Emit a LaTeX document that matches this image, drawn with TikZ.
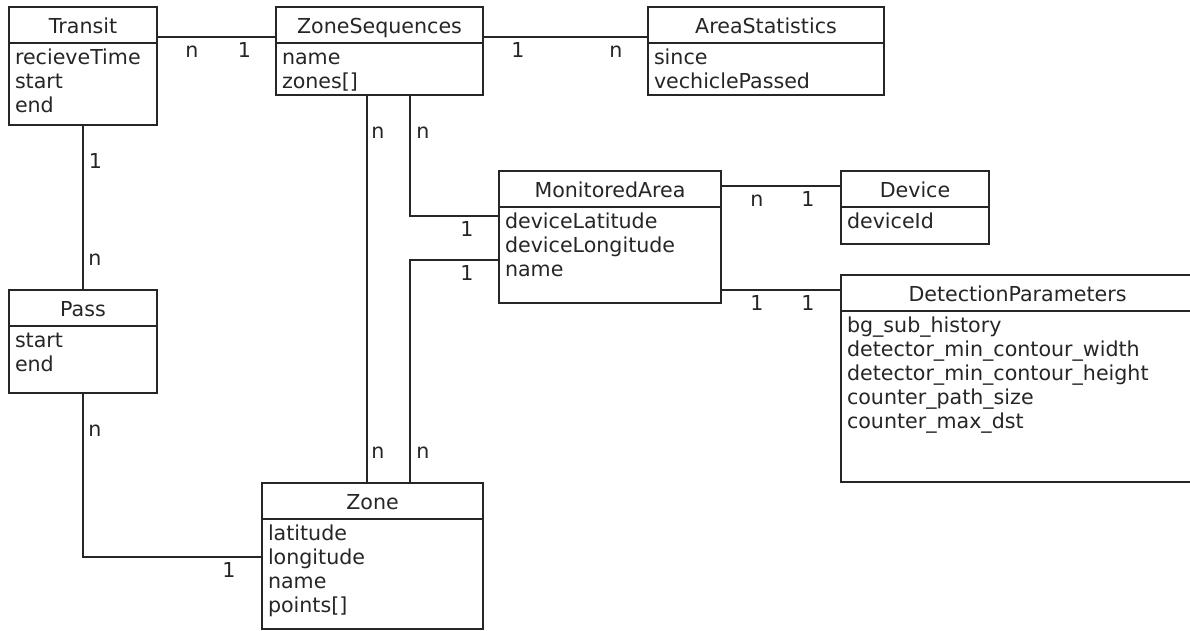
\documentclass[tikz,border=0pt]{standalone}
\usepackage{fontspec}
\setmainfont{DejaVu Sans}
\usetikzlibrary{fit}
\tikzset{
  classbox/.style={draw=black!85, line width=1.7pt, inner sep=0pt, outer sep=0pt},
  conn/.style={draw=black!85, line width=1.7pt},
  txt/.style={inner sep=0pt, outer sep=0pt, text=black!85},
  mult/.style={inner sep=0pt, outer sep=0pt, text=black!85, anchor=base},
}
\newcommand\umlclass[7]{%
  \node[classbox, fit={(#2,#3) (#4,#5)}] (#1) {};
  \draw[conn] ([yshift=-36pt]#1.north west) -- ([yshift=-36pt]#1.north east);
  \node[txt, anchor=base] (#1-title) at ([yshift=-26pt]#1.north) {#6};
  \foreach \a [count=\i] in {#7} {
    \node[txt, anchor=base west] (#1-a\i) at ([xshift=6pt, yshift={-(57+(\i-1)*24)*1pt}]#1.north west) {\a};
  }%
}
\begin{document}
\begin{tikzpicture}[x=1pt, y=-1pt, font=\fontsize{20.6}{24}\selectfont]
\useasboundingbox (0,0) rectangle (1190,630);
\clip (0,0) rectangle (1190,630);
\fill[white] (0,0) rectangle (1190,630);

\umlclass{transit}{9}{7}{157}{125}{Transit}{recieveTime,start,end}
\umlclass{zoneseq}{276}{7}{483}{95}{ZoneSequences}{name,zones[]}
\umlclass{areastat}{648}{7}{884}{95}{AreaStatistics}{since,vechiclePassed}
\umlclass{monitored}{499}{171}{721}{303}{MonitoredArea}{deviceLatitude,deviceLongitude,name}
\umlclass{device}{841}{171}{989}{244}{Device}{deviceId}
\umlclass{detect}{841}{275}{1194}{482}{DetectionParameters}{bg\_sub\_history,detector\_min\_contour\_width,detector\_min\_contour\_height,counter\_path\_size,counter\_max\_dst}
\umlclass{pass}{9}{290}{157}{393}{Pass}{start,end}
\umlclass{zone}{262}{483}{483}{629}{Zone}{latitude,longitude,name,points[]}

% connectors
\draw[conn] ([yshift=-30pt]transit.north east) -- ([yshift=-30pt]zoneseq.north west);
\draw[conn] ([yshift=-30pt]zoneseq.north east) -- ([yshift=-30pt]areastat.north west);
\draw[conn] ([xshift=91pt]zoneseq.south west) -- ([xshift=105pt]zone.north west);
\draw[conn] ([xshift=134pt]zoneseq.south west) |- ([yshift=-45pt]monitored.north west);
\draw[conn] ([xshift=148pt]zone.north west) |- ([yshift=-89pt]monitored.north west);
\draw[conn] ([yshift=-15pt]monitored.north east) -- ([yshift=-15pt]device.north west);
\draw[conn] ([yshift=13pt]monitored.south east) -- ([yshift=-15pt]detect.north west);
\draw[conn] (transit.south) -- (pass.north);
\draw[conn] (pass.south) |- ([yshift=-74pt]zone.north west);

% multiplicities
\node[mult] (m1) at (192,57) {n};
\node[mult] (m2) at (244.5,57) {1};
\node[mult] (m3) at (518,57) {1};
\node[mult] (m4) at (616,57) {n};
\node[mult] (m5) at (378,138) {n};
\node[mult] (m6) at (423,138) {n};
\node[mult] (m7) at (467,236) {1};
\node[mult] (m8) at (467,280) {1};
\node[mult] (m9) at (757,206) {n};
\node[mult] (m10) at (808,206) {1};
\node[mult] (m11) at (757,310) {1};
\node[mult] (m12) at (808,310) {1};
\node[mult] (m13) at (95.5,168) {1};
\node[mult] (m14) at (95,265) {n};
\node[mult] (m15) at (95,436) {n};
\node[mult] (m16) at (229,577) {1};
\node[mult] (m17) at (378,458) {n};
\node[mult] (m18) at (423,458) {n};
\end{tikzpicture}
\end{document}
